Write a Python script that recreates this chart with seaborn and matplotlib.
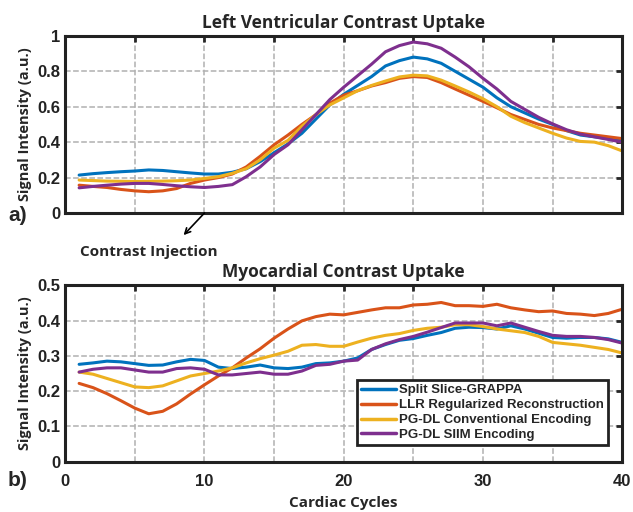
import matplotlib
matplotlib.use("Agg")
import matplotlib.pyplot as plt
import seaborn as sns
import numpy as np
import pandas as pd

cycles = list(range(1, 41))
methods = ["Split Slice-GRAPPA", "LLR Regularized Reconstruction",
           "PG-DL Conventional Encoding", "PG-DL SIIM Encoding"]
colors = ["#0072BD", "#D95319", "#EDB120", "#7E2F8E"]

# left ventricle
lv_grappa = [0.214, 0.222, 0.228, 0.233, 0.237, 0.243, 0.240, 0.233, 0.226, 0.220,
             0.220, 0.230, 0.250, 0.290, 0.340, 0.390, 0.450, 0.530, 0.610, 0.670,
             0.720, 0.770, 0.830, 0.860, 0.880, 0.870, 0.845, 0.800, 0.755, 0.710,
             0.650, 0.600, 0.565, 0.530, 0.500, 0.465, 0.440, 0.430, 0.420, 0.410]
lv_llr = [0.157, 0.150, 0.144, 0.133, 0.125, 0.120, 0.125, 0.138, 0.167, 0.186,
          0.200, 0.220, 0.260, 0.320, 0.385, 0.440, 0.500, 0.555, 0.620, 0.665,
          0.690, 0.717, 0.736, 0.760, 0.770, 0.765, 0.736, 0.700, 0.665, 0.630,
          0.594, 0.556, 0.528, 0.500, 0.480, 0.465, 0.450, 0.440, 0.430, 0.420]
lv_conv = [0.186, 0.183, 0.180, 0.179, 0.178, 0.179, 0.180, 0.182, 0.186, 0.195,
           0.205, 0.224, 0.250, 0.300, 0.366, 0.410, 0.490, 0.555, 0.610, 0.650,
           0.690, 0.720, 0.745, 0.768, 0.778, 0.774, 0.750, 0.717, 0.683, 0.645,
           0.600, 0.546, 0.510, 0.480, 0.450, 0.423, 0.404, 0.400, 0.380, 0.350]
lv_siim = [0.142, 0.150, 0.157, 0.163, 0.167, 0.167, 0.161, 0.154, 0.148, 0.144,
           0.150, 0.160, 0.205, 0.260, 0.330, 0.385, 0.470, 0.555, 0.640, 0.710,
           0.775, 0.840, 0.910, 0.945, 0.965, 0.955, 0.930, 0.880, 0.825, 0.760,
           0.700, 0.630, 0.585, 0.540, 0.503, 0.470, 0.445, 0.430, 0.415, 0.400]

# myocardium
my_grappa = [0.276, 0.280, 0.285, 0.283, 0.278, 0.273, 0.274, 0.283, 0.290, 0.287,
             0.268, 0.264, 0.268, 0.274, 0.266, 0.264, 0.268, 0.278, 0.280, 0.285,
             0.294, 0.318, 0.332, 0.344, 0.349, 0.358, 0.366, 0.378, 0.381, 0.380,
             0.376, 0.385, 0.376, 0.364, 0.352, 0.350, 0.352, 0.352, 0.348, 0.338]
my_llr = [0.222, 0.210, 0.193, 0.173, 0.152, 0.136, 0.143, 0.164, 0.192, 0.218,
          0.243, 0.266, 0.294, 0.320, 0.350, 0.376, 0.399, 0.411, 0.418, 0.416,
          0.423, 0.430, 0.436, 0.436, 0.444, 0.446, 0.451, 0.442, 0.442, 0.440,
          0.446, 0.436, 0.430, 0.425, 0.427, 0.420, 0.418, 0.414, 0.420, 0.432]
my_conv = [0.254, 0.248, 0.236, 0.224, 0.212, 0.210, 0.215, 0.229, 0.243, 0.250,
           0.257, 0.266, 0.280, 0.292, 0.302, 0.313, 0.330, 0.332, 0.327, 0.327,
           0.339, 0.350, 0.358, 0.363, 0.372, 0.378, 0.381, 0.388, 0.388, 0.383,
           0.376, 0.371, 0.366, 0.355, 0.338, 0.334, 0.330, 0.324, 0.318, 0.308]
my_siim = [0.254, 0.262, 0.266, 0.266, 0.260, 0.254, 0.254, 0.264, 0.266, 0.262,
           0.246, 0.246, 0.250, 0.254, 0.248, 0.248, 0.257, 0.273, 0.276, 0.285,
           0.288, 0.318, 0.334, 0.346, 0.355, 0.367, 0.380, 0.393, 0.393, 0.393,
           0.385, 0.393, 0.381, 0.369, 0.358, 0.355, 0.355, 0.352, 0.346, 0.336]


def to_long(series):
    frames = []
    for name, vals in zip(methods, series):
        frames.append(pd.DataFrame({"cycle": cycles, "signal": vals, "method": name}))
    return pd.concat(frames, ignore_index=True)


lv = to_long([lv_grappa, lv_llr, lv_conv, lv_siim])
myo = to_long([my_grappa, my_llr, my_conv, my_siim])

sns.set_style("white")
plt.rcParams["font.family"] = ["Liberation Sans", "DejaVu Sans"]
plt.rcParams["font.weight"] = "bold"

fig = plt.figure(figsize=(6.33, 5.12), dpi=100)
ax1 = fig.add_axes([0.103, 0.584, 0.880, 0.346])
ax2 = fig.add_axes([0.103, 0.098, 0.880, 0.345])


def style_axes(ax, ymax, ystep):
    ax.set_xlim(0, 40)
    ax.set_ylim(0, ymax)
    ax.set_xticks(np.arange(0, 41, 5), minor=True)
    ax.set_xticks(np.arange(0, 41, 10))
    ax.set_yticks(np.arange(0, ymax + 1e-9, ystep))
    ax.grid(True, which="both", axis="x", ls="--", color="#b0b0b0", lw=1.1)
    ax.grid(True, which="major", axis="y", ls="--", color="#b0b0b0", lw=1.1)
    ax.tick_params(which="both", direction="in", top=True, right=True,
                   length=4, width=2, labelsize=12)
    ax.tick_params(axis="x", pad=9)
    for s in ax.spines.values():
        s.set_linewidth(2.2)
        s.set_color("#222222")
    ax.set_ylabel("Signal Intensity (a.u.)", fontsize=10.5, fontweight="bold",
                  family="Open Sans", labelpad=4)


sns.lineplot(data=lv, x="cycle", y="signal", hue="method", palette=colors,
             lw=2.2, ax=ax1, legend=False)
style_axes(ax1, 1.0, 0.2)
ax1.set_yticklabels(["0", "0.2", "0.4", "0.6", "0.8", "1"], fontweight="bold",
                    color="#222222")
ax1.tick_params(axis="x", labelbottom=False)
ax1.set_xlabel("")
ax1.set_title("Left Ventricular Contrast Uptake", fontsize=12.5, fontweight="bold",
              family="Open Sans", pad=6)

sns.lineplot(data=myo, x="cycle", y="signal", hue="method", palette=colors,
             lw=2.2, ax=ax2)
style_axes(ax2, 0.5, 0.1)
ax2.set_yticklabels(["0", "0.1", "0.2", "0.3", "0.4", "0.5"], fontweight="bold",
                    color="#222222")
ax2.set_xticklabels(["0", "10", "20", "30", "40"], fontweight="bold", color="#222222")
ax2.set_xlabel("Cardiac Cycles", fontsize=11, fontweight="bold", family="Open Sans",
               labelpad=5)
ax2.set_title("Myocardial Contrast Uptake", fontsize=12.5, fontweight="bold",
              family="Open Sans", pad=6)

leg = ax2.legend(loc="lower right", bbox_to_anchor=(0.975, 0.095), fontsize=9.5,
                 frameon=True, fancybox=False, handlelength=2.6, handletextpad=0.3,
                 borderpad=0.3, labelspacing=0.2, borderaxespad=0)
leg.get_frame().set_edgecolor("#222222")
leg.get_frame().set_linewidth(2)
leg.get_frame().set_alpha(1)
for t in leg.get_texts():
    t.set_fontweight("bold")
for h in leg.get_lines():
    h.set_linewidth(2.5)

ax1.text(6.0, -0.22, "Contrast Injection", fontsize=11, fontweight="bold",
         family="Open Sans", ha="center", va="center", clip_on=False)
ax1.annotate("", xy=(8.5, -0.125), xytext=(10, 0), annotation_clip=False,
             arrowprops=dict(arrowstyle="->", color="black", lw=1.2,
                             shrinkA=0, shrinkB=0))

fig.text(0.028, 0.58, "a)", fontsize=15, fontweight="bold", ha="center", va="center")
fig.text(0.028, 0.0625, "b)", fontsize=15, fontweight="bold", ha="center", va="center")

fig.savefig("out.png", dpi=100)
